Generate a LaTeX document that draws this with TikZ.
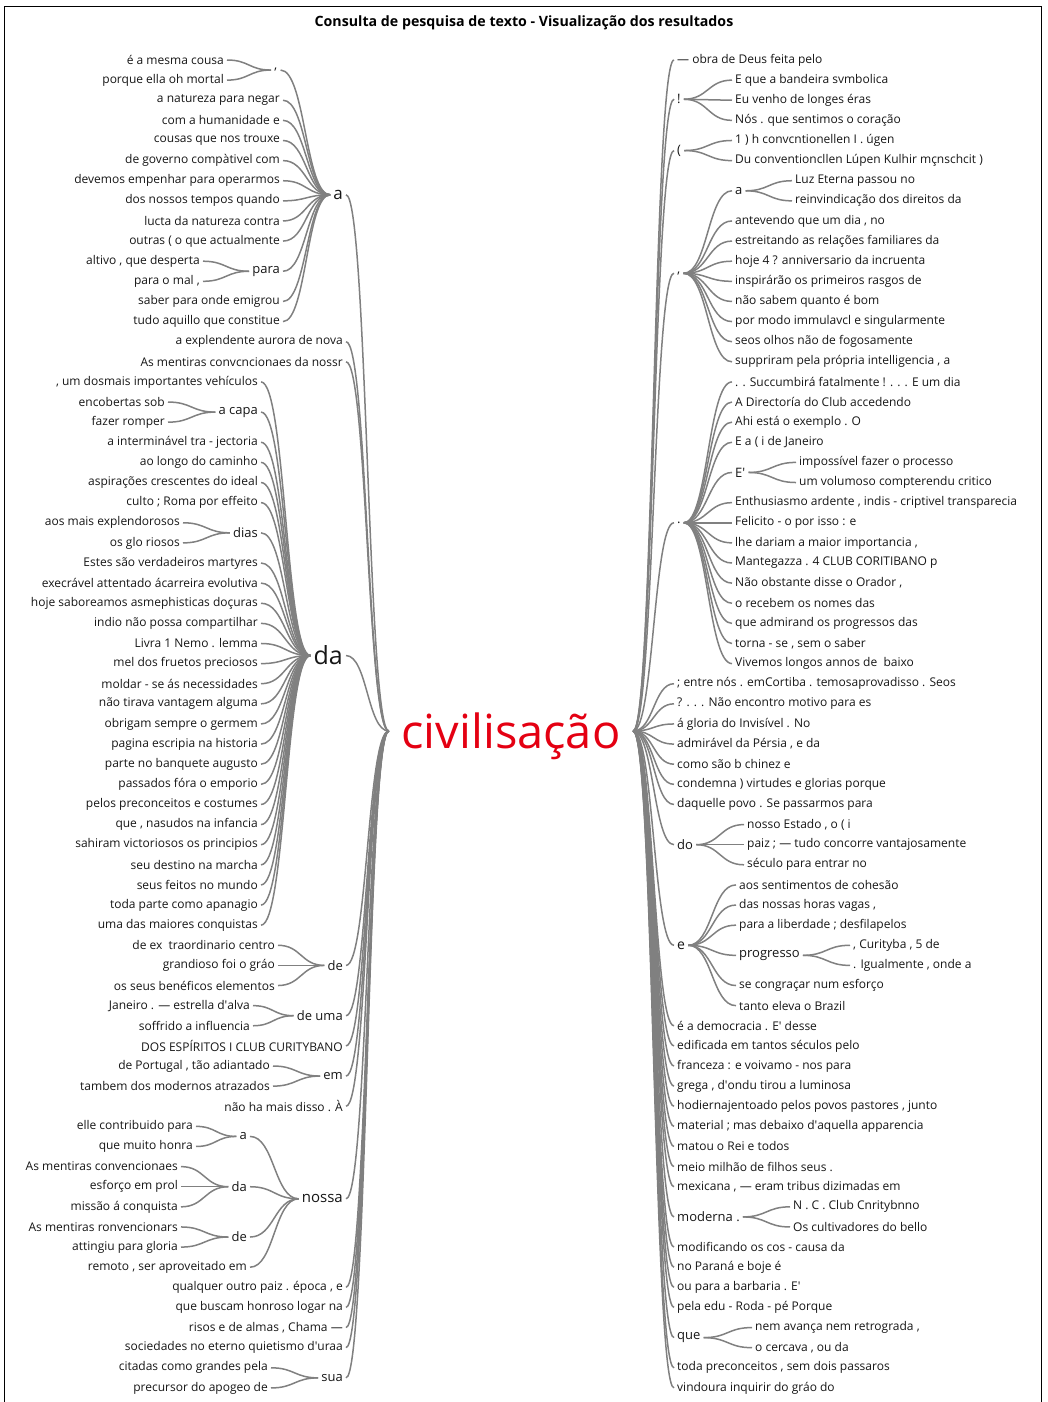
\documentclass[tikz,border=0pt]{standalone}
\usepackage{fontspec}
\setmainfont{Open Sans}
\usetikzlibrary{calc}
\definecolor{txt}{RGB}{22,22,22}
\definecolor{lc}{RGB}{128,128,128}
\definecolor{rootred}{RGB}{228,0,18}
\tikzset{
 lf/.style={font=\fontsize{12}{14}\selectfont, text=txt, inner sep=3pt},
 le/.style={lf, anchor=east},
 ri/.style={lf, anchor=west},
 md/.style={font=\fontsize{13}{15}\selectfont, text=txt, inner sep=3pt},
 mdl/.style={md, anchor=east},
 mdr/.style={md, anchor=west},
 br/.style={draw=lc, line width=1.5pt},
}
\newcommand\qq{\textquotesingle}
\newcommand\wlink[2]{\draw[br] let \p1=(#1), \p2=(#2), \n1={(\x2-\x1)/2} in (\p1) .. controls +(\n1,0) and +(-\n1,0) .. (\p2);}
\begin{document}
\begin{tikzpicture}[x=1pt,y=-20.12pt]
\useasboundingbox (0,-2.9821) rectangle (1048,66.700);
\draw[black,line width=1pt] (4,-2.684) rectangle (1041,68);
\node[font=\bfseries\fontsize{14.2}{16}\selectfont, text=black] (title) at (524,-1.87) {Consulta de pesquisa de texto - Visualização dos resultados};
\node[font=\fontsize{47}{50}\selectfont, text=rootred, text height=34pt, text depth=0pt, inner sep=0pt, minimum width=244pt] (root) at (511,33.35) {civilisação};
% ---------------- left side ----------------
\node[le] (L0) at (227,0) {é a mesma cousa};
\node[le] (L1) at (227,1) {porque ella oh mortal};
\node[mdr] (Lcm) at (271,0.5) {,};
\node[le] (L2) at (283,2) {a natureza para negar};
\node[le] (L3) at (283,3) {com a humanidade e};
\node[le] (L4) at (283,4) {cousas que nos trouxe};
\node[le] (L5) at (283,5) {de governo compàtivel com};
\node[le] (L6) at (283,6) {devemos empenhar para operarmos};
\node[le] (L7) at (283,7) {dos nossos tempos quando};
\node[le] (L8) at (283,8) {lucta da natureza contra};
\node[le] (L9) at (283,9) {outras ( o que actualmente};
\node[le] (L10) at (203,10) {altivo , que desperta};
\node[le] (L11) at (203,11) {para o mal ,};
\node[mdl] (Lpara) at (283,10.5) {para};
\node[le] (L12) at (283,12) {saber para onde emigrou};
\node[le] (L13) at (283,13) {tudo aquillo que constitue};
\node[font=\fontsize{17}{19}\selectfont, text=txt, inner sep=3pt, anchor=east] (La) at (346,6.7) {a};
\node[le] (L14) at (346,14) {a explendente aurora de nova};
\node[le] (L15) at (346,15) {As mentiras convcncionaes da nossr};
\node[le] (L16) at (261,16) {, um dosmais importantes vehículos};
\node[le] (L17) at (168,17) {encobertas sob};
\node[le] (L18) at (168,18) {fazer romper};
\node[mdl] (Lcapa) at (261,17.5) {a capa};
\node[le] (L19) at (261,19) {a interminável tra - jectoria};
\node[le] (L20) at (261,20) {ao longo do caminho};
\node[le] (L21) at (261,21) {aspirações crescentes do ideal};
\node[le] (L22) at (261,22) {culto ; Roma por effeito};
\node[le] (L23) at (183,23) {aos mais explendorosos};
\node[le] (L24) at (183,24) {os glo riosos};
\node[mdl] (Ldias) at (261,23.5) {dias};
\node[le] (L25) at (261,25) {Estes são verdadeiros martyres};
\node[le] (L26) at (261,26) {execrável attentado ácarreira evolutiva};
\node[le] (L27) at (261,27) {hoje saboreamos asmephisticas doçuras};
\node[le] (L28) at (261,28) {indio não possa compartilhar};
\node[le] (L29) at (261,29) {Livra 1 Nemo . lemma};
\node[le] (L30) at (261,30) {mel dos fruetos preciosos};
\node[le] (L31) at (261,31) {moldar - se ás necessidades};
\node[le] (L32) at (261,32) {não tirava vantagem alguma};
\node[le] (L33) at (261,33) {obrigam sempre o germem};
\node[le] (L34) at (261,34) {pagina escripia na historia};
\node[le] (L35) at (261,35) {parte no banquete augusto};
\node[le] (L36) at (261,36) {passados fóra o emporio};
\node[le] (L37) at (261,37) {pelos preconceitos e costumes};
\node[le] (L38) at (261,38) {que , nasudos na infancia};
\node[le] (L39) at (261,39) {sahiram victoriosos os principios};
\node[le] (L40) at (261,40) {seu destino na marcha};
\node[le] (L41) at (261,41) {seus feitos no mundo};
\node[le] (L42) at (261,42) {toda parte como apanagio};
\node[le] (L43) at (261,43) {uma das maiores conquistas};
\node[font=\fontsize{25}{27}\selectfont, text=txt, inner sep=3pt, anchor=east] (Lda) at (346,29.6) {da};
\node[le] (L44) at (278,44) {de ex\ \ traordinario centro};
\node[le] (L45) at (278,45) {grandioso foi o gráo};
\node[le] (L46) at (278,46) {os seus benéficos elementos};
\node[mdl] (Lde) at (346,45) {de};
\node[le] (L47) at (253,47) {Janeiro . — estrella d\qq alva};
\node[le] (L48) at (253,48) {soffrido a influencia};
\node[mdl] (Ldeuma) at (346,47.5) {de uma};
\node[le] (L49) at (346,49) {DOS ESPÍRITOS I CLUB CURITYBANO};
\node[le] (L50) at (273,50) {de Portugal , tão adiantado};
\node[le] (L51) at (273,51) {tambem dos modernos atrazados};
\node[mdl] (Lem) at (346,50.5) {em};
\node[le] (L52) at (346,52) {não ha mais disso . À};
\node[le] (L53) at (196,53) {elle contribuido para};
\node[le] (L54) at (196,54) {que muito honra};
\node[mdl] (Lna) at (250,53.5) {a};
\node[le] (L55) at (181,55) {As mentiras convencionaes};
\node[le] (L56) at (181,56) {esforço em prol};
\node[le] (L57) at (181,57) {missão á conquista};
\node[mdl] (Lnda) at (250,56) {da};
\node[le] (L58) at (181,58) {As mentiras ronvencionars};
\node[le] (L59) at (181,59) {attingiu para gloria};
\node[mdl] (Lnde) at (250,58.5) {de};
\node[le] (L60) at (250,60) {remoto , ser aproveitado em};
\node[font=\fontsize{15}{17}\selectfont, text=txt, inner sep=3pt, anchor=east] (Lnossa) at (346,56.6) {nossa};
\node[le] (L61) at (346,61) {qualquer outro paiz . época , e};
\node[le] (L62) at (346,62) {que buscam honroso logar na};
\node[le] (L63) at (346,63) {risos e de almas , Chama —};
\node[le] (L64) at (346,64) {sociedades no eterno quietismo d\qq uraa};
\node[le] (L65) at (271,65) {citadas como grandes pela};
\node[le] (L66) at (271,66) {precursor do apogeo de};
\node[mdl] (Lsua) at (346,65.5) {sua};
% left connectors
\wlink{L0.east}{Lcm.west}
\wlink{L1.east}{Lcm.west}
\wlink{L10.east}{Lpara.west}
\wlink{L11.east}{Lpara.west}
\wlink{Lcm.east}{La.west}
\foreach \i in {2,...,9,12,13} {\wlink{L\i.east}{La.west}}
\wlink{Lpara.east}{La.west}
\wlink{L17.east}{Lcapa.west}
\wlink{L18.east}{Lcapa.west}
\wlink{L23.east}{Ldias.west}
\wlink{L24.east}{Ldias.west}
\foreach \i in {16,19,20,21,22,25,26,27,28,29,30,31,32,33,34,35,36,37,38,39,40,41,42,43} {\wlink{L\i.east}{Lda.west}}
\wlink{Lcapa.east}{Lda.west}
\wlink{Ldias.east}{Lda.west}
\foreach \i in {44,45,46} {\wlink{L\i.east}{Lde.west}}
\foreach \i in {47,48} {\wlink{L\i.east}{Ldeuma.west}}
\foreach \i in {50,51} {\wlink{L\i.east}{Lem.west}}
\foreach \i in {53,54} {\wlink{L\i.east}{Lna.west}}
\foreach \i in {55,56,57} {\wlink{L\i.east}{Lnda.west}}
\foreach \i in {58,59} {\wlink{L\i.east}{Lnde.west}}
\foreach \v in {Lna,Lnda,Lnde,L60} {\wlink{\v.east}{Lnossa.west}}
\foreach \i in {65,66} {\wlink{L\i.east}{Lsua.west}}
\foreach \v in {La,L14,L15,Lda,Lde,Ldeuma,L49,Lem,L52,Lnossa,L61,L62,L63,L64,Lsua} {\wlink{\v.east}{root.west}}
% ---------------- right side ----------------
\node[ri] (R0) at (674,0) {— obra de Deus feita pelo};
\node[mdr] (Rbang) at (674,1.95) {!};
\node[ri] (R1) at (732,1) {E que a bandeira svmbolica};
\node[ri] (R2) at (732,2) {Eu venho de longes éras};
\node[ri] (R3) at (732,3) {Nós . que sentimos o coração};
\node[mdr] (Rparen) at (674,4.5) {(};
\node[ri] (R4) at (732,4) {1 ) h convcntionellen I . úgen};
\node[ri] (R5) at (732,5) {Du conventioncllen Lúpen Kulhir mçnschcit )};
\node[mdr] (Rcomma) at (674,10.6) {,};
\node[mdr] (Ra) at (732,6.5) {a};
\node[ri] (R6) at (792,6) {Luz Eterna passou no};
\node[ri] (R7) at (792,7) {reinvindicação dos direitos da};
\node[ri] (R8) at (732,8) {antevendo que um dia , no};
\node[ri] (R9) at (732,9) {estreitando as relações familiares da};
\node[ri] (R10) at (732,10) {hoje 4 ? anniversario da incruenta};
\node[ri] (R11) at (732,11) {inspirárão os primeiros rasgos de};
\node[ri] (R12) at (732,12) {não sabem quanto é bom};
\node[ri] (R13) at (732,13) {por modo immulavcl e singularmente};
\node[ri] (R14) at (732,14) {seos olhos não de fogosamente};
\node[ri] (R15) at (732,15) {suppriram pela própria intelligencia , a};
\node[mdr] (Rdot) at (674,23) {.};
\node[ri] (R16) at (732,16) {. . Succumbirá fatalmente ! . . . E um dia};
\node[ri] (R17) at (732,17) {A Directoría do Club accedendo};
\node[ri] (R18) at (732,18) {Ahi está o exemplo . O};
\node[ri] (R19) at (732,19) {E a ( i de Janeiro};
\node[mdr] (REp) at (732,20.5) {E\qq};
\node[ri] (R20) at (796,20) {impossível fazer o processo};
\node[ri] (R21) at (796,21) {um volumoso compterendu critico};
\node[ri] (R22) at (732,22) {Enthusiasmo ardente , indis - criptivel transparecia};
\node[ri] (R23) at (732,23) {Felicito - o por isso : e};
\node[ri] (R24) at (732,24) {lhe dariam a maior importancia ,};
\node[ri] (R25) at (732,25) {Mantegazza . 4 CLUB CORITIBANO p};
\node[ri] (R26) at (732,26) {Não obstante disse o Orador ,};
\node[ri] (R27) at (732,27) {o recebem os nomes das};
\node[ri] (R28) at (732,28) {que admirand os progressos das};
\node[ri] (R29) at (732,29) {torna - se , sem o saber};
\node[ri] (R30) at (732,30) {Vivemos longos annos de\ \ baixo};
\node[ri] (R31) at (674,31) {; entre nós . emCortiba . temosaprovadisso . Seos};
\node[ri] (R32) at (674,32) {? . . . Não encontro motivo para es};
\node[ri] (R33) at (674,33) {á gloria do Invisível . No};
\node[ri] (R34) at (674,34) {admirável da Pérsia , e da};
\node[ri] (R35) at (674,35) {como são b chinez e};
\node[ri] (R36) at (674,36) {condemna ) virtudes e glorias porque};
\node[ri] (R37) at (674,37) {daquelle povo . Se passarmos para};
\node[mdr] (Rdo) at (674,39) {do};
\node[ri] (R38) at (744,38) {nosso Estado , o ( i};
\node[ri] (R39) at (744,39) {paiz ; — tudo concorre vantajosamente};
\node[ri] (R40) at (744,40) {século para entrar no};
\node[font=\fontsize{14}{16}\selectfont, text=txt, inner sep=3pt, anchor=west] (Re) at (674,44) {e};
\node[ri] (R41) at (736,41) {aos sentimentos de cohesão};
\node[ri] (R42) at (736,42) {das nossas horas vagas ,};
\node[ri] (R43) at (736,43) {para a liberdade ; desfilapelos};
\node[mdr] (Rprog) at (736,44.5) {progresso};
\node[ri] (R44) at (850,44) {, Curityba , 5 de};
\node[ri] (R45) at (850,45) {. Igualmente , onde a};
\node[ri] (R46) at (736,46) {se congraçar num esforço};
\node[ri] (R47) at (736,47) {tanto eleva o Brazil};
\node[ri] (R48) at (674,48) {é a democracia . E\qq{} desse};
\node[ri] (R49) at (674,49) {edificada em tantos séculos pelo};
\node[ri] (R50) at (674,50) {franceza : e voivamo - nos para};
\node[ri] (R51) at (674,51) {grega , d\qq ondu tirou a luminosa};
\node[ri] (R52) at (674,52) {hodiernajentoado pelos povos pastores , junto};
\node[ri] (R53) at (674,53) {material ; mas debaixo d\qq aquella apparencia};
\node[ri] (R54) at (674,54) {matou o Rei e todos};
\node[ri] (R55) at (674,55) {meio milhão de filhos seus .};
\node[ri] (R56) at (674,56) {mexicana , — eram tribus dizimadas em};
\node[mdr] (Rmod) at (674,57.5) {moderna .};
\node[ri] (R57) at (790,57) {N . C . Club Cnritybnno};
\node[ri] (R58) at (790,58) {Os cultivadores do bello};
\node[ri] (R59) at (674,59) {modificando os cos - causa da};
\node[ri] (R60) at (674,60) {no Paraná e boje é};
\node[ri] (R61) at (674,61) {ou para a barbaria . E\qq};
\node[ri] (R62) at (674,62) {pela edu - Roda - pé Porque};
\node[mdr] (Rque) at (674,63.5) {que};
\node[ri] (R63) at (752,63) {nem avança nem retrograda ,};
\node[ri] (R64) at (752,64) {o cercava , ou da};
\node[ri] (R65) at (674,65) {toda preconceitos , sem dois passaros};
\node[ri] (R66) at (674,66) {vindoura inquirir do gráo do};
% right connectors
\foreach \v in {R0,Rbang,Rparen,Rcomma,Rdot,R31,R32,R33,R34,R35,R36,R37,Rdo,Re,R48,R49,R50,R51,R52,R53,R54,R55,R56,Rmod,R59,R60,R61,R62,Rque,R65,R66} {\wlink{root.east}{\v.west}}
\foreach \i in {1,2,3} {\wlink{Rbang.east}{R\i.west}}
\foreach \i in {4,5} {\wlink{Rparen.east}{R\i.west}}
\foreach \v in {Ra,R8,R9,R10,R11,R12,R13,R14,R15} {\wlink{Rcomma.east}{\v.west}}
\foreach \i in {6,7} {\wlink{Ra.east}{R\i.west}}
\foreach \v in {R16,R17,R18,R19,REp,R22,R23,R24,R25,R26,R27,R28,R29,R30} {\wlink{Rdot.east}{\v.west}}
\foreach \i in {20,21} {\wlink{REp.east}{R\i.west}}
\foreach \i in {38,39,40} {\wlink{Rdo.east}{R\i.west}}
\foreach \v in {R41,R42,R43,Rprog,R46,R47} {\wlink{Re.east}{\v.west}}
\foreach \i in {44,45} {\wlink{Rprog.east}{R\i.west}}
\foreach \i in {57,58} {\wlink{Rmod.east}{R\i.west}}
\foreach \i in {63,64} {\wlink{Rque.east}{R\i.west}}
\end{tikzpicture}
\end{document}
